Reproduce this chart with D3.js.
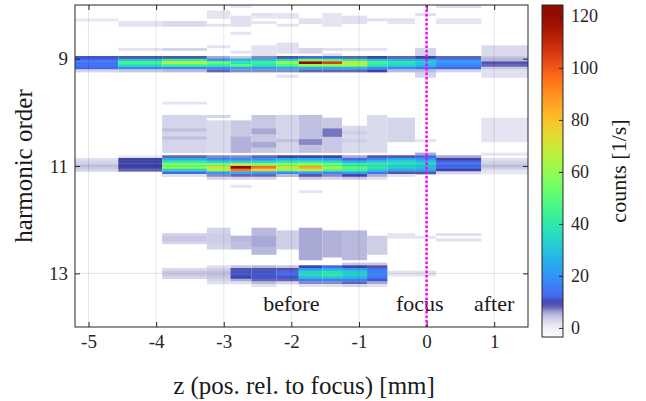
<!DOCTYPE html>
<html>
<head>
<meta charset="utf-8">
<script src="https://cdn.jsdelivr.net/npm/d3@7"></script>
<style>
  body { margin: 0; background: #fff; }
  svg { display: block; font-family: "Liberation Serif", "DejaVu Serif", serif; }
  .axis text { fill: #262626; font-family: "Liberation Serif", "DejaVu Serif", serif; }
  .axis line { stroke: #262626; }
</style>
</head>
<body>
<div id="chart"></div>
<script>
// measurement columns: edges along z [mm]
const zEdges = [-5.2, -4.56, -3.91, -3.25, -2.9, -2.59, -2.22, -1.89, -1.54, -1.25, -0.88, -0.58, -0.17, 0.14, 0.81, 1.5];
const rowStep = 0.05;   // spectrometer row height in harmonic order

const xTicks = [-5, -4, -3, -2, -1, 0, 1];
const yTicks = [9, 11, 13];
const cTicks = [0, 20, 40, 60, 80, 100, 120];

const annotations = [
  {label: "before", z: -2},
  {label: "focus", z: -0.1},
  {label: "after", z: 1}
];

// harmonic 9 line, one profile per column, rows from 8.95 upward
const h9Start = 8.95;
const h9Counts = [
  [11, 14, 14, 14, 12, 3],
  [9, 30, 45, 38, 18, 4],
  [9, 42, 65, 45, 18, 5],
  [6, 22, 52, 42, 20, 8],
  [4, 28, 38, 50, 24, 7],
  [7, 30, 42, 40, 22, 7],
  [9, 35, 60, 48, 25, 7],
  [12, 55, 122, 60, 25, 8],
  [12, 50, 105, 60, 25, 8],
  [8, 40, 68, 62, 28, 8],
  [10, 30, 45, 40, 20, 10],
  [8, 28, 38, 34, 18, 5],
  [10, 25, 30, 28, 15, 5],
  [8, 18, 20, 18, 12, 3],
  [4, 5, 9, 8, 4, 2]
];

// harmonic 11 line, rows from 10.80
const h11Start = 10.80;
const h11Counts = [
  [0, 2, 3, 4, 4, 3, 0, 0, 0],
  [1, 10, 10, 10, 10, 8, 0, 0, 0],
  [8, 25, 42, 55, 58, 35, 12, 2, 0],
  [7, 18, 35, 55, 72, 62, 22, 7, 3],
  [7, 18, 35, 70, 122, 95, 25, 8, 3],
  [8, 20, 35, 60, 95, 75, 22, 8, 3],
  [10, 25, 40, 58, 70, 58, 18, 5, 0],
  [10, 25, 42, 60, 85, 65, 22, 9, 4],
  [10, 22, 38, 52, 62, 48, 18, 7, 3],
  [6, 12, 28, 42, 50, 45, 22, 10, 4],
  [9, 18, 32, 40, 40, 32, 14, 6, 2],
  [9, 25, 34, 36, 34, 24, 9, 2, 0],
  [12, 22, 30, 32, 30, 24, 9, 0, 0],
  [6, 10, 12, 13, 13, 10, 3, 0, 0],
  [0, 2, 3, 4, 4, 2, 1, 0, 0]
];

// harmonic 13 line, rows from 12.80
const h13Start = 12.80;
const h13Counts = [
  [0, 0, 0, 0, 0, 0, 0, 0, 0],
  [0, 0, 0, 0, 0, 0, 0, 0, 0],
  [0, 0, 2.5, 4, 4, 3, 0, 0, 0],
  [0, 2, 3.5, 4.5, 4.5, 4, 3, 2, 0],
  [0, 4, 9, 11, 11, 10, 6, 2, 0],
  [0, 5, 9, 11, 11, 11, 8, 5, 2],
  [0, 4, 9, 12, 12, 11, 8, 3, 0],
  [0, 10, 22, 34, 36, 30, 15, 7, 2],
  [0, 12, 25, 38, 40, 32, 16, 7, 2],
  [4, 10, 22, 32, 33, 28, 16, 8, 3],
  [4, 9, 14, 17, 17, 15, 11, 6, 2],
  [0, 0, 0, 0, 0, 0, 0, 0, 0],
  [0, 0, 0, 0, 0, 0, 0, 0, 0],
  [0, 0, 0, 0, 0, 0, 0, 0, 0],
  [0, 0, 0, 0, 0, 0, 0, 0, 0]
];

// weak background signal: [column, from order, to order, counts]
const faintBands = [
  [0, 8.25, 8.30, 1], [1, 8.30, 8.40, 1.5], [1, 8.80, 8.85, 1.5],
  [2, 8.30, 8.40, 2.5], [2, 8.80, 8.85, 3], [2, 9.80, 9.85, 1.5],
  [3, 8.10, 8.20, 1.5], [3, 8.20, 8.25, 1.5], [3, 8.35, 8.40, 1.5], [3, 8.75, 8.80, 1.5],
  [4, 8.00, 8.05, 1], [4, 8.20, 8.40, 2], [4, 8.50, 8.55, 1.5], [4, 8.85, 8.90, 1.5],
  [5, 8.15, 8.20, 2], [5, 8.20, 8.25, 1], [5, 8.30, 8.35, 1.5], [5, 8.75, 8.95, 1.8],
  [6, 8.15, 8.25, 1.5], [6, 8.35, 8.40, 1.5], [6, 8.70, 8.90, 2], [6, 9.30, 9.35, 1.5],
  [7, 8.25, 8.35, 2], [7, 8.80, 8.90, 3],
  [8, 8.15, 8.25, 1.5], [8, 8.25, 8.40, 1.5], [8, 8.80, 8.85, 2], [8, 8.90, 8.95, 2],
  [9, 8.20, 8.35, 2], [9, 8.80, 8.85, 1.5],
  [10, 8.25, 8.30, 2], [10, 8.80, 8.85, 1.5],
  [11, 8.25, 8.30, 2], [11, 8.30, 8.35, 1.5],
  [12, 8.15, 8.20, 2], [12, 8.80, 8.95, 3], [12, 9.25, 9.35, 3],
  [13, 8.00, 8.05, 2], [13, 8.25, 8.35, 1.5],
  [14, 8.75, 8.95, 2.5], [14, 9.25, 9.35, 2],
  // above harmonic 11
  [2, 10.05, 10.75, 3], [2, 10.30, 10.35, 4.5], [2, 10.45, 10.50, 4.5],
  [3, 10.05, 10.10, 3], [3, 10.15, 10.75, 2.5],
  [4, 10.15, 10.45, 4], [4, 10.45, 10.75, 5.5],
  [5, 10.05, 10.75, 4], [5, 10.30, 10.40, 6], [5, 10.55, 10.65, 6],
  [6, 10.05, 10.75, 3], [6, 10.50, 10.55, 4.5],
  [7, 10.05, 10.75, 4.5], [7, 10.50, 10.60, 7],
  [8, 10.10, 10.75, 4], [8, 10.30, 10.45, 7.5],
  [9, 10.25, 10.75, 2.5], [9, 10.35, 10.40, 3.5], [9, 10.50, 10.55, 3.5],
  [10, 10.05, 10.75, 2.5],
  [11, 10.10, 10.55, 3],
  [12, 10.50, 10.55, 1.5], [12, 10.75, 10.80, 6],
  [14, 10.10, 10.55, 1.5], [14, 10.75, 10.80, 1.5],
  [4, 11.35, 11.40, 1.5], [7, 11.45, 11.50, 1.5],
  // satellite below harmonic 13
  [2, 12.25, 12.45, 3], [2, 12.30, 12.40, 4],
  [3, 12.15, 12.55, 3], [3, 12.25, 12.45, 3.5],
  [4, 12.30, 12.55, 4.5], [4, 12.30, 12.40, 5],
  [5, 12.15, 12.65, 5], [5, 12.30, 12.50, 6],
  [6, 12.20, 12.55, 3.5],
  [7, 12.15, 12.75, 6],
  [8, 12.20, 12.70, 5.5],
  [9, 12.20, 12.75, 5],
  [10, 12.30, 12.65, 3.5],
  [11, 12.25, 12.35, 1.5], [12, 12.30, 12.35, 1.5],
  [13, 12.25, 12.30, 2], [13, 12.35, 12.40, 2],
  [11, 12.95, 13.05, 1.5], [12, 12.95, 13.05, 2]
];

const W = 646, H = 401;
const svg = d3.select("#chart").append("svg").attr("width", W).attr("height", H);

const x = d3.scaleLinear().domain([-5.2, 1.5]).range([75, 528]);
const y = d3.scaleLinear().domain([8, 14]).range([5, 327]);

// colour map: turbo, faded to white at the low end
const cMin = -3.5, cMax = 124.2;
const tOf = v => (v - cMin) / (cMax - cMin);
const lowColor = d3.scaleLinear()
    .domain([-3.5, 0, 2, 4, 6, 8, 10, 12])
    .range(["#fafafd", "#f0f0f7", "#e0e0f0", "#c8c8e4", "#a9a9d6", "#6464b6", "#3f43a8", d3.interpolateTurbo(tOf(12))])
    .clamp(true);
const color = v => v < 12 ? lowColor(v) : d3.interpolateTurbo(tOf(v));

// collect cells
let cells = [];
faintBands.forEach(([c, o0, o1, v]) => cells.push({c, o0, o1, v}));
function addLine(start, counts) {
    counts.forEach((col, c) => col.forEach((v, i) => {
        if (v > 0) cells.push({c, o0: start + i * rowStep, o1: start + (i + 1) * rowStep, v});
    }));
}
addLine(h9Start, h9Counts);
addLine(h11Start, h11Counts);
addLine(h13Start, h13Counts);

svg.append("defs").append("clipPath").attr("id", "plotClip")
    .append("rect").attr("x", x(-5.2)).attr("y", y(8))
    .attr("width", x(1.5) - x(-5.2)).attr("height", y(14) - y(8));

const plot = svg.append("g").attr("clip-path", "url(#plotClip)");

plot.selectAll("rect.cell")
    .data(cells)
    .enter().append("rect")
    .attr("class", "cell")
    .attr("x", d => x(zEdges[d.c]))
    .attr("width", d => x(zEdges[d.c + 1]) - x(zEdges[d.c]))
    .attr("y", d => y(d.o0))
    .attr("height", d => y(d.o1) - y(d.o0) + 0.3)
    .attr("fill", d => color(d.v));

// grid
plot.selectAll("line.gx").data(xTicks).enter().append("line")
    .attr("x1", d => x(d)).attr("x2", d => x(d))
    .attr("y1", y(8)).attr("y2", y(14))
    .attr("stroke", "#000").attr("stroke-opacity", 0.1);
plot.selectAll("line.gy").data(yTicks).enter().append("line")
    .attr("y1", d => y(d)).attr("y2", d => y(d))
    .attr("x1", x(-5.2)).attr("x2", x(1.5))
    .attr("stroke", "#000").attr("stroke-opacity", 0.1);

// annotations
svg.selectAll("text.ann").data(annotations).enter().append("text")
    .attr("x", d => x(d.z)).attr("y", y(13.71))
    .attr("text-anchor", "middle")
    .style("font-size", "22px").attr("fill", "#1a1a1a")
    .text(d => d.label);

// focus marker
svg.append("line")
    .attr("x1", x(0)).attr("x2", x(0))
    .attr("y1", y(8)).attr("y2", y(14))
    .attr("stroke", "#ff00ff").attr("stroke-width", 2.5)
    .attr("stroke-dasharray", "2.5,2");

// axes
const fmt = d => String(d);
function styleAxis(g, size) {
    g.attr("font-family", null).attr("font-size", null);
    g.select(".domain").remove();
    g.selectAll("text").style("font-size", size);
}
svg.append("g").attr("class", "axis")
    .attr("transform", `translate(0,${y(14)})`)
    .call(d3.axisBottom(x).tickValues(xTicks).tickFormat(fmt).tickSize(-5).tickPadding(8))
    .call(styleAxis, "19px");
svg.append("g").attr("class", "axis")
    .attr("transform", `translate(0,${y(8)})`)
    .call(d3.axisTop(x).tickValues(xTicks).tickFormat("").tickSize(-5))
    .call(styleAxis, "19px");
svg.append("g").attr("class", "axis")
    .attr("transform", `translate(${x(-5.2)},0)`)
    .call(d3.axisLeft(y).tickValues(yTicks).tickFormat(fmt).tickSize(-5).tickPadding(7))
    .call(styleAxis, "19px");
svg.append("g").attr("class", "axis")
    .attr("transform", `translate(${x(1.5)},0)`)
    .call(d3.axisRight(y).tickValues(yTicks).tickFormat("").tickSize(-5))
    .call(styleAxis, "19px");

svg.append("rect")
    .attr("x", x(-5.2)).attr("y", y(8))
    .attr("width", x(1.5) - x(-5.2)).attr("height", y(14) - y(8))
    .attr("fill", "none").attr("stroke", "#262626");

svg.append("text")
    .attr("x", 304).attr("y", 394)
    .attr("text-anchor", "middle")
    .style("font-size", "25px").attr("fill", "#1a1a1a")
    .text("z (pos. rel. to focus) [mm]");
svg.append("text")
    .attr("transform", `translate(32,${(y(8) + y(14)) / 2}) rotate(-90)`)
    .attr("text-anchor", "middle")
    .style("font-size", "25px").attr("fill", "#1a1a1a")
    .text("harmonic order");

// colorbar
const cb = {x: 542, w: 21};
const c = d3.scaleLinear().domain([cMin, cMax]).range([337, 5]);
const grad = svg.select("defs").append("linearGradient")
    .attr("id", "cbGrad").attr("x1", 0).attr("x2", 0).attr("y1", 1).attr("y2", 0);
d3.range(0, 1.0001, 0.01).forEach(t => {
    grad.append("stop").attr("offset", t).attr("stop-color", color(cMin + t * (cMax - cMin)));
});
svg.append("rect")
    .attr("x", cb.x).attr("y", c(cMax))
    .attr("width", cb.w).attr("height", c(cMin) - c(cMax))
    .attr("fill", "url(#cbGrad)").attr("stroke", "#262626");
svg.append("g").attr("class", "axis")
    .attr("transform", `translate(${cb.x + cb.w},0)`)
    .call(d3.axisRight(c).tickValues(cTicks).tickSize(-4).tickPadding(8))
    .call(styleAxis, "18px");
svg.append("text")
    .attr("transform", `translate(626,${(c(cMin) + c(cMax)) / 2}) rotate(-90)`)
    .attr("text-anchor", "middle")
    .style("font-size", "22px").attr("fill", "#1a1a1a")
    .text("counts [1/s]");
</script>
</body>
</html>
